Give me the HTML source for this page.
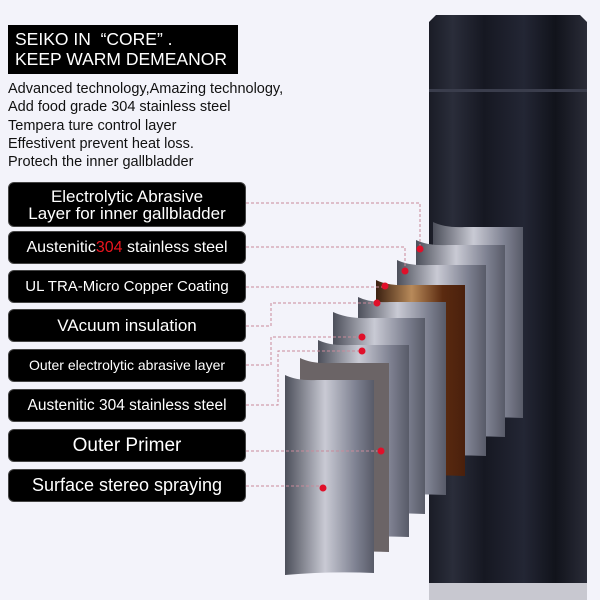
<!DOCTYPE html>
<html><head><style>
body{margin:0;width:600px;height:600px;background:#f3f3fa;position:relative;overflow:hidden;font-family:"Liberation Sans",sans-serif}
.hd{position:absolute;left:8px;top:25px;width:230px;height:49px;background:#000;color:#fff;font-size:17.5px;line-height:20px;padding:4px 0 0 7px;box-sizing:border-box}
.tx{position:absolute;left:8px;top:80px;font-size:14.5px;line-height:18.3px;color:#111}
.b{position:absolute;left:8px;width:238px;background:#000;color:#fff;border-radius:6px;text-align:center;box-sizing:border-box;border:1px solid #444}
svg{position:absolute;left:0;top:0}
</style></head><body>
<svg width="600" height="600">
<defs>
<linearGradient id="bot" x1="0" x2="1"><stop offset="0" stop-color="#1a1c26"/><stop offset=".15" stop-color="#2a2d3a"/><stop offset=".35" stop-color="#161822"/><stop offset=".6" stop-color="#232634"/><stop offset=".8" stop-color="#11131b"/><stop offset="1" stop-color="#2a2c38"/></linearGradient>
<linearGradient id="m" x1="0" x2="1"><stop offset="0" stop-color="#4c4f5a"/><stop offset=".45" stop-color="#c9cad4"/><stop offset=".8" stop-color="#7d8090"/><stop offset="1" stop-color="#585b68"/></linearGradient>
<linearGradient id="cu" x1="0" x2="1"><stop offset="0" stop-color="#3b2010"/><stop offset=".4" stop-color="#b88a5a"/><stop offset=".75" stop-color="#5a2a10"/><stop offset="1" stop-color="#4a200c"/></linearGradient>
</defs>
<path d="M436 15 H580 L587 22 V583 H429 V22 Z" fill="url(#bot)"/>
<rect x="429" y="89" width="158" height="3" fill="#3a3d4c"/>
<rect x="429" y="583" width="158" height="17" fill="#c8c8d0"/>
<g>
<path d="M433 222 Q445 228 465 227 H523 V418 Q480 416 433 420 Z" fill="url(#m)"/>
<path d="M416 240 Q428 246 448 245 H505 V437 Q460 435 416 439 Z" fill="url(#m)"/>
<path d="M397 260 Q409 266 429 265 H486 V456 Q440 454 397 458 Z" fill="url(#cu)" style="fill:url(#m)"/>
<path d="M376 280 Q388 286 408 285 H465 V476 Q420 474 376 478 Z" fill="url(#cu)"/>
<path d="M358 297 Q370 303 390 302 H446 V495 Q400 493 358 497 Z" fill="url(#m)"/>
<path d="M333 312 Q348 319 370 318 H425 V514 Q380 512 333 516 Z" fill="url(#m)"/>
<path d="M318 340 Q330 346 350 345 H409 V537 Q360 535 318 539 Z" fill="url(#m)"/>
<path d="M300 358 Q312 364 332 363 H389 V552 Q340 550 300 554 Z" fill="#6b6466"/>
<path d="M285 375 Q297 381 317 380 H374 V573 Q330 571 285 575 Z" fill="url(#m)"/>
</g>
<g fill="none" stroke="#c98a9a" stroke-width="1" stroke-dasharray="3,2">
<path d="M246 203 H420 V249"/>
<path d="M246 247 H405 V271"/>
<path d="M246 287 H385"/>
<path d="M246 326 H271 V303 H377"/>
<path d="M246 365 H271 V337 H362"/>
<path d="M246 405 H278 V351 H362"/>
<path d="M246 451 H381"/>
<path d="M246 486 H323"/>
</g>
<g fill="#e0102a">
<circle cx="420" cy="249" r="3.5"/><circle cx="405" cy="271" r="3.5"/><circle cx="385" cy="286" r="3.5"/><circle cx="377" cy="303" r="3.5"/><circle cx="362" cy="337" r="3.5"/><circle cx="362" cy="351" r="3.5"/><circle cx="381" cy="451" r="3.5"/><circle cx="323" cy="488" r="3.5"/>
</g>
</svg>
<div class="hd">SEIKO IN &nbsp;“CORE” .<br>KEEP WARM DEMEANOR</div>
<div class="tx">Advanced technology,Amazing technology,<br>Add food grade 304 stainless steel<br>Tempera ture control layer<br>Effestivent prevent heat loss.<br>Protech the inner gallbladder</div>
<div class="b" style="top:182px;height:45px;font-size:17px;line-height:17px;padding-top:5px">Electrolytic Abrasive<br>Layer for inner gallbladder</div>
<div class="b" style="top:231px;height:33px;font-size:16px;line-height:31px">Austenitic<span style="color:#e8141e">304</span> stainless steel</div>
<div class="b" style="top:270px;height:33px;font-size:15px;line-height:31px">UL TRA-Micro Copper Coating</div>
<div class="b" style="top:309px;height:33px;font-size:17px;line-height:31px">VAcuum insulation</div>
<div class="b" style="top:349px;height:33px;font-size:14px;line-height:31px">Outer electrolytic abrasive layer</div>
<div class="b" style="top:389px;height:33px;font-size:15.5px;line-height:31px">Austenitic 304 stainless steel</div>
<div class="b" style="top:429px;height:33px;font-size:19px;line-height:31px">Outer Primer</div>
<div class="b" style="top:469px;height:33px;font-size:18px;line-height:31px">Surface stereo spraying</div>
</body></html>
